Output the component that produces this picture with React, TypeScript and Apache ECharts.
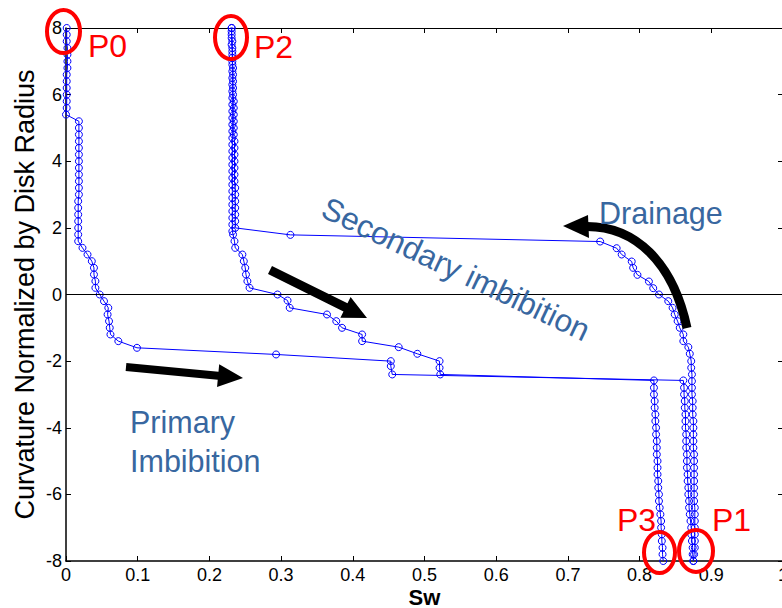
import React, { useEffect, useRef } from "react";
import * as echarts from "echarts";

// ---- data: [Sw, curvature] ----
const primaryImbibition: [number, number][] = [
  [0.001, 8.0], [0.001, 7.8], [0.001, 7.6], [0.002, 7.4], [0.002, 7.2], [0.002, 7.0], [0.002, 6.8],
  [0.001, 6.6], [0.001, 6.4], [0.001, 6.2], [0.001, 6.0], [0.001, 5.8], [0.001, 5.6], [0.0, 5.4],
  [0.018, 5.2], [0.018, 5.0], [0.018, 4.8], [0.018, 4.6], [0.018, 4.4], [0.018, 4.2], [0.018, 4.0],
  [0.018, 3.8], [0.018, 3.6], [0.018, 3.4], [0.018, 3.2], [0.018, 3.0], [0.017, 2.8], [0.017, 2.6],
  [0.017, 2.4], [0.017, 2.2], [0.017, 2.0], [0.017, 1.8], [0.017, 1.6],
  [0.023, 1.4], [0.030, 1.2], [0.036, 1.0], [0.039, 0.8], [0.039, 0.6], [0.041, 0.4], [0.041, 0.2],
  [0.047, 0.0], [0.053, -0.2], [0.059, -0.4], [0.058, -0.6], [0.060, -0.8], [0.061, -1.0], [0.062, -1.2],
  [0.073, -1.4], [0.099, -1.6], [0.293, -1.8], [0.453, -2.0], [0.453, -2.15], [0.455, -2.4],
  [0.861, -2.58], [0.862, -2.8], [0.862, -3.0], [0.863, -3.2], [0.863, -3.4], [0.864, -3.6], [0.864, -3.8],
  [0.864, -4.0], [0.865, -4.2], [0.865, -4.4], [0.865, -4.6], [0.866, -4.8], [0.866, -5.0], [0.866, -5.2],
  [0.867, -5.4], [0.867, -5.6], [0.868, -5.8], [0.868, -6.0], [0.869, -6.2], [0.869, -6.4], [0.870, -6.6],
  [0.871, -6.8], [0.872, -7.0], [0.872, -7.2], [0.873, -7.4], [0.874, -7.6], [0.874, -7.8], [0.875, -8.0],
];

const drainage: [number, number][] = [
  [0.875, -8.0], [0.876, -7.8], [0.877, -7.6], [0.877, -7.4], [0.877, -7.2], [0.877, -7.0], [0.877, -6.8],
  [0.877, -6.6], [0.877, -6.4], [0.876, -6.2], [0.876, -6.0], [0.876, -5.8], [0.876, -5.6], [0.876, -5.4],
  [0.876, -5.2], [0.876, -5.0], [0.876, -4.8], [0.875, -4.6], [0.875, -4.4], [0.875, -4.2], [0.875, -4.0],
  [0.875, -3.8], [0.874, -3.6], [0.874, -3.4], [0.874, -3.2], [0.873, -3.0], [0.873, -2.8], [0.873, -2.6],
  [0.873, -2.4], [0.872, -2.2], [0.872, -2.0], [0.870, -1.78], [0.868, -1.58], [0.861, -1.4], [0.861, -1.2],
  [0.856, -1.0], [0.853, -0.8], [0.849, -0.6], [0.846, -0.4], [0.840, -0.2], [0.827, 0.0], [0.819, 0.19],
  [0.813, 0.39], [0.797, 0.59], [0.791, 0.8], [0.789, 0.99], [0.775, 1.2], [0.768, 1.39], [0.745, 1.59],
  [0.313, 1.79], [0.236, 2.0],
  [0.236, 2.2], [0.236, 2.4], [0.236, 2.6], [0.236, 2.8], [0.236, 3.0], [0.236, 3.2], [0.235, 3.4],
  [0.235, 3.6], [0.235, 3.8], [0.235, 4.0], [0.235, 4.2], [0.235, 4.4], [0.235, 4.6], [0.234, 4.8],
  [0.234, 5.0], [0.234, 5.2], [0.234, 5.4], [0.234, 5.6], [0.234, 5.8], [0.233, 6.0], [0.233, 6.2],
  [0.233, 6.4], [0.233, 6.6], [0.233, 6.8], [0.232, 7.0], [0.232, 7.2], [0.232, 7.4], [0.232, 7.6],
  [0.231, 7.8], [0.231, 8.0],
];

const secondaryImbibition: [number, number][] = [
  [0.231, 8.0], [0.231, 7.9], [0.231, 7.7], [0.231, 7.5], [0.232, 7.3], [0.232, 7.1], [0.232, 6.9],
  [0.232, 6.7], [0.232, 6.5], [0.232, 6.3], [0.232, 6.1], [0.232, 5.9], [0.232, 5.7], [0.232, 5.5],
  [0.232, 5.3], [0.232, 5.1], [0.232, 4.9], [0.232, 4.7], [0.232, 4.5], [0.232, 4.3], [0.232, 4.1],
  [0.232, 3.9], [0.232, 3.7], [0.232, 3.5], [0.232, 3.3], [0.232, 3.1], [0.232, 2.9], [0.232, 2.7],
  [0.232, 2.5], [0.232, 2.3], [0.232, 2.1], [0.232, 1.9], [0.233, 1.8], [0.235, 1.6], [0.236, 1.4],
  [0.246, 1.2], [0.248, 1.0], [0.250, 0.8], [0.251, 0.6], [0.253, 0.4], [0.256, 0.2],
  [0.295, 0.0], [0.309, -0.18], [0.312, -0.4], [0.364, -0.6], [0.377, -0.8], [0.385, -1.0], [0.413, -1.2],
  [0.413, -1.4], [0.464, -1.58], [0.490, -1.78], [0.521, -2.0], [0.521, -2.2], [0.522, -2.4],
  [0.820, -2.58], [0.820, -2.8], [0.820, -3.0], [0.821, -3.2], [0.821, -3.4], [0.822, -3.6], [0.822, -3.8],
  [0.823, -4.0], [0.823, -4.2], [0.824, -4.4], [0.824, -4.6], [0.824, -4.8], [0.825, -5.0], [0.825, -5.2],
  [0.825, -5.4], [0.826, -5.6], [0.826, -5.8], [0.827, -6.0], [0.827, -6.2], [0.828, -6.4], [0.829, -6.6],
  [0.830, -6.8], [0.830, -7.0], [0.831, -7.2], [0.831, -7.4], [0.832, -7.6], [0.832, -7.8], [0.833, -8.0],
];

const xMin = 0;
const xMax = 1;
const xStep = 0.1;
const yMin = -8;
const yMax = 8;
const yStep = 2;

const FONT = "'Liberation Sans', Arial, Helvetica, sans-serif";
const BLUE = "#0000ff";
const TEXT_BLUE = "#3867a0";

function arrowPoints(x1: number, y1: number, x2: number, y2: number, shaftW: number, headW: number, headL: number) {
  const dx = x2 - x1, dy = y2 - y1;
  const len = Math.hypot(dx, dy);
  const ux = dx / len, uy = dy / len;
  const nx = -uy, ny = ux;
  const bx = x2 - ux * headL, by = y2 - uy * headL;
  const s = shaftW / 2, h = headW / 2;
  return [
    [x1 + nx * s, y1 + ny * s],
    [bx + nx * s, by + ny * s],
    [bx + nx * h, by + ny * h],
    [x2, y2],
    [bx - nx * h, by - ny * h],
    [bx - nx * s, by - ny * s],
    [x1 - nx * s, y1 - ny * s],
  ];
}

function redEllipse(cx: number, cy: number, rx: number, ry: number) {
  return { type: "ellipse", shape: { cx, cy, rx, ry }, style: { fill: "none", stroke: "#ff0000", lineWidth: 4 }, z: 100 };
}

function label(text: string, x: number, y: number, color: string, fontSize: number, rotation = 0, align = "left", weight = "normal") {
  return {
    type: "text",
    x,
    y,
    rotation,
    z: 100,
    style: {
      text,
      fill: color,
      fontSize,
      fontWeight: weight,
      fontFamily: FONT,
      align,
      textAlign: align,
      verticalAlign: "middle",
      textVerticalAlign: "middle",
    },
  };
}

export default function App() {
  const ref = useRef<HTMLDivElement>(null);
  useEffect(() => {
    if (!ref.current) return;
    const chart = echarts.init(ref.current, undefined, { renderer: "svg" });
    const seriesBase = {
      type: "line",
      symbol: "circle",
      symbolSize: 7,
      showSymbol: true,
      clip: false,
      silent: true,
      itemStyle: { color: "rgba(0,0,255,0)", borderColor: BLUE, borderWidth: 1 },
      lineStyle: { color: BLUE, width: 1 },
      emphasis: { disabled: true },
    };
    const axisCommonX = {
      type: "value",
      min: xMin,
      max: xMax,
      interval: xStep,
      splitLine: { show: false },
      axisTick: { show: true, inside: true, length: 5, lineStyle: { color: "#000", width: 1 } },
    };
    const axisCommonY = {
      type: "value",
      min: yMin,
      max: yMax,
      interval: yStep,
      splitLine: { show: false },
      axisTick: { show: true, inside: true, length: 5, lineStyle: { color: "#000", width: 1 } },
    };
    chart.setOption({
      animation: false,
      backgroundColor: "#fff",
      grid: { left: 66, top: 28, width: 717, height: 533, containLabel: false, outerBoundsMode: "none" },
      xAxis: [
        {
          ...axisCommonX,
          position: "bottom",
          name: "Sw",
          nameLocation: "middle",
          nameGap: 25,
          nameMoveOverlap: false,
          nameTextStyle: { fontSize: 22, fontWeight: "bold", color: "#000", fontFamily: FONT, lineHeight: 22 },
          axisLine: { show: true, onZero: false, lineStyle: { color: "#000", width: 1.5 } },
          axisLabel: { color: "#000", fontSize: 18, margin: 5, fontFamily: FONT, lineHeight: 18 },
        },
        {
          ...axisCommonX,
          position: "top",
          axisLine: { show: true, onZero: false, lineStyle: { color: "#000", width: 1 } },
          axisLabel: { show: false },
        },
      ],
      yAxis: [
        {
          ...axisCommonY,
          position: "left",
          name: "Curvature Normalized by Disk Radius",
          nameLocation: "middle",
          nameGap: 28,
          nameRotate: 90,
          nameMoveOverlap: false,
          nameTextStyle: { fontSize: 27, color: "#000", fontFamily: FONT },
          axisLine: { show: true, onZero: false, lineStyle: { color: "#000", width: 1.5 } },
          axisLabel: { color: "#000", fontSize: 18, margin: 4, fontFamily: FONT },
        },
        {
          ...axisCommonY,
          position: "right",
          axisLine: { show: true, onZero: false, lineStyle: { color: "#000", width: 1 } },
          axisLabel: { show: false },
        },
      ],
      series: [
        {
          ...seriesBase,
          name: "Primary imbibition",
          data: primaryImbibition,
          markLine: {
            silent: true,
            symbol: "none",
            label: { show: false },
            lineStyle: { color: "#000", width: 1, type: "solid" },
            data: [{ yAxis: 0 }],
          },
        },
        { ...seriesBase, name: "Drainage", data: drainage },
        { ...seriesBase, name: "Secondary imbibition", data: secondaryImbibition },
      ],
      graphic: [
        redEllipse(63.5, 31.5, 16.5, 21.5),
        redEllipse(231, 37.5, 16, 21.5),
        redEllipse(659.5, 552.5, 15.5, 20.5),
        redEllipse(696, 551, 17, 21),
        label("P0", 88, 46, "#ff0000", 32),
        label("P2", 254, 47, "#ff0000", 32),
        label("P3", 617, 520, "#ff0000", 32),
        label("P1", 712, 520, "#ff0000", 32),
        label("Primary", 130, 422, TEXT_BLUE, 30.5),
        label("Imbibition", 130, 461, TEXT_BLUE, 30.5),
        label("Drainage", 599, 213, TEXT_BLUE, 30.5),
        label("Secondary imbibition", 456, 269, TEXT_BLUE, 31.5, -0.445, "center"),
        {
          type: "polygon",
          z: 90,
          shape: { points: arrowPoints(126, 367, 243, 378, 8, 23, 25) },
          style: { fill: "#000" },
        },
        {
          type: "polygon",
          z: 90,
          shape: { points: arrowPoints(270, 270, 367, 318, 9, 23, 24) },
          style: { fill: "#000" },
        },
        {
          type: "bezierCurve",
          z: 90,
          shape: { x1: 687, y1: 328, cpx1: 673, cpy1: 262, cpx2: 635, cpy2: 226, x2: 586, y2: 226.5 },
          style: { stroke: "#000", lineWidth: 9, fill: "none" },
        },
        {
          type: "polygon",
          z: 90,
          shape: { points: [[563, 226], [588, 215], [589, 238]] },
          style: { fill: "#000" },
        },
      ],
    });
    return () => chart.dispose();
  }, []);
  return (
    <div
      ref={ref}
      style={{ position: "fixed", left: 0, top: 0, width: 782, height: 608, background: "#fff" }}
    />
  );
}
